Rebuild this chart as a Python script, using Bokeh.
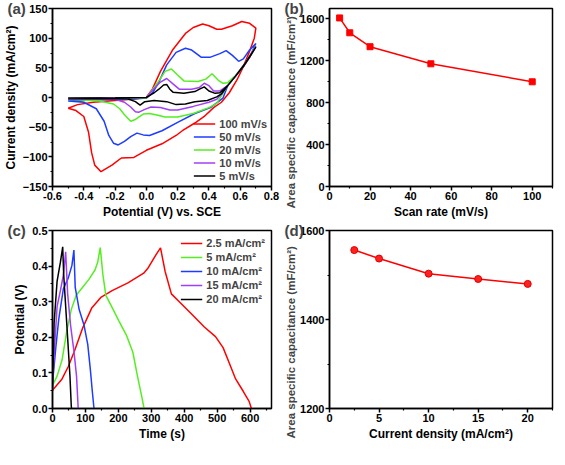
from bokeh.plotting import figure
from bokeh.layouts import gridplot
from bokeh.models import FixedTicker, Range1d, Legend, LegendItem, PrintfTickFormatter, Title
from bokeh.embed import file_html
from bokeh.resources import INLINE

# ---------------- data ----------------
# (a) CV curves: potential (V vs SCE) and current density (mA/cm2), closed loops
cv_labels = ["100 mV/s", "50 mV/s", "20 mV/s", "10 mV/s", "5 mV/s"]
cv100_x = [-0.50, -0.44, -0.34, -0.20, -0.10, 0.00, 0.04, 0.09, 0.17, 0.25, 0.30, 0.36, 0.40, 0.45, 0.48,
           0.55, 0.61, 0.66, 0.70, 0.69, 0.66, 0.62, 0.58, 0.53, 0.48, 0.43, 0.37, 0.31, 0.23, 0.19,
           0.10, 0.00, -0.08, -0.16, -0.22, -0.29, -0.33, -0.35, -0.37, -0.40, -0.45, -0.50]
cv100_y = [-18, -12, -8, -5, -3, 0, 15, 44, 81, 108, 118, 124, 121, 115, 115,
           121, 128, 125, 117, 100, 78, 52, 30, 8, -8, -17, -32, -43, -56, -64,
           -78, -89, -101, -102, -114, -125, -114, -93, -58, -32, -22, -18]
cv50_x = [-0.50, -0.30, -0.10, 0.00, 0.04, 0.08, 0.13, 0.19, 0.25, 0.29, 0.35, 0.41, 0.47, 0.51, 0.55,
          0.59, 0.62, 0.66, 0.70, 0.66, 0.62, 0.57, 0.52, 0.49, 0.41, 0.31, 0.20, 0.10, 0.02, -0.02,
          -0.06, -0.10, -0.14, -0.18, -0.21, -0.24, -0.27, -0.32, -0.40, -0.50]
cv50_y = [-6, -4, -3, -1, 8, 26, 55, 76, 83, 80, 68, 68, 74, 79, 71,
          61, 65, 80, 91, 68, 52, 36, 20, -1, -17, -27, -42, -56, -64, -63,
          -60, -66, -74, -80, -77, -64, -40, -19, -8, -6]
cv20_x = [-0.50, -0.20, 0.00, 0.03, 0.08, 0.12, 0.16, 0.20, 0.24, 0.33, 0.38, 0.42, 0.46, 0.49, 0.52,
          0.57, 0.63, 0.70, 0.66, 0.62, 0.57, 0.52, 0.48, 0.45, 0.40, 0.30, 0.20, 0.12, 0.06, 0.02,
          -0.02, -0.07, -0.10, -0.14, -0.17, -0.21, -0.30, -0.50]
cv20_y = [-3, -2, -1, 10, 28, 44, 48, 38, 28, 27, 31, 40, 29, 24, 25,
          37, 57, 87, 68, 52, 36, 20, 3, -10, -17, -27, -33, -33, -29, -27,
          -28, -37, -40, -29, -19, -11, -6, -3]
cv10_x = [-0.50, -0.20, 0.00, 0.05, 0.09, 0.13, 0.17, 0.21, 0.29, 0.34, 0.37, 0.40, 0.43, 0.47, 0.52,
          0.57, 0.63, 0.70, 0.66, 0.62, 0.57, 0.52, 0.48, 0.45, 0.40, 0.30, 0.20, 0.15, 0.09, 0.03,
          -0.01, -0.05, -0.07, -0.10, -0.14, -0.20, -0.50]
cv10_y = [-2, -1, 0, 15, 26, 32, 23, 14, 14, 17, 24, 20, 11, 11, 20,
          36, 57, 86, 68, 52, 36, 20, 6, -3, -8, -15, -21, -21, -17, -16,
          -20, -25, -24, -16, -8, -3, -2]
cv5_x = [-0.50, -0.20, 0.00, 0.03, 0.05, 0.08, 0.11, 0.13, 0.15, 0.17, 0.24, 0.31, 0.34, 0.37, 0.40,
         0.44, 0.47, 0.52, 0.57, 0.63, 0.70, 0.66, 0.62, 0.57, 0.52, 0.48, 0.45, 0.39, 0.31, 0.25,
         0.19, 0.13, 0.05, -0.01, -0.04, -0.07, -0.12, -0.50]
cv5_y = [-2, -1, 0, 5, 8, 14, 21, 22, 14, 9, 7, 10, 14, 18, 11,
         7, 8, 20, 36, 57, 85, 68, 52, 36, 20, 6, 1, -5, -7, -11,
         -12, -7, -5, -7, -13, -7, -2, -1]

# (b) capacitance vs scan rate
scan_rate = [5, 10, 20, 50, 100]
cap_scan = [1610, 1468, 1335, 1172, 1000]

# (c) galvanostatic charge/discharge: time (s), potential (V)
gcd_labels = ["2.5 mA/cm²", "5 mA/cm²", "10 mA/cm²", "15 mA/cm²", "20 mA/cm²"]
gcd25_t = [0, 29, 48, 67, 91, 119, 148, 181, 229, 277, 289, 315, 328, 342, 361, 385, 423, 461, 495,
           518, 537, 556, 580, 597, 604]
gcd25_v = [0.051, 0.083, 0.118, 0.162, 0.225, 0.282, 0.313, 0.331, 0.353, 0.380, 0.393, 0.433, 0.451,
           0.385, 0.322, 0.300, 0.265, 0.229, 0.202, 0.171, 0.127, 0.083, 0.047, 0.020, 0.0]
gcd5_t = [0, 14, 29, 43, 57, 72, 91, 110, 129, 137, 145, 153, 162, 177, 201, 224, 244, 258, 272, 278]
gcd5_v = [0.065, 0.091, 0.136, 0.216, 0.278, 0.318, 0.340, 0.362, 0.389, 0.410, 0.452, 0.376, 0.318,
          0.291, 0.247, 0.207, 0.158, 0.091, 0.029, 0.0]
gcd10_t = [0, 5, 10, 19, 33, 48, 59, 65, 69, 81, 96, 107, 115, 121, 126]
gcd10_v = [0.07, 0.12, 0.171, 0.251, 0.336, 0.367, 0.402, 0.445, 0.340, 0.278, 0.233, 0.180, 0.109,
           0.047, 0.0]
gcd15_t = [0, 3, 8, 14, 24, 33, 40, 46, 55, 65, 73, 78]
gcd15_v = [0.05, 0.12, 0.198, 0.287, 0.331, 0.375, 0.440, 0.322, 0.233, 0.162, 0.091, 0.0]
gcd20_t = [0, 2, 5, 14, 24, 31, 34, 40, 46, 53, 57, 58]
gcd20_v = [0.05, 0.13, 0.242, 0.358, 0.411, 0.454, 0.376, 0.287, 0.198, 0.091, 0.007, 0.0]

# (d) capacitance vs current density
cur_density = [2.5, 5, 10, 15, 20]
cap_cur = [1556, 1537, 1503, 1491, 1480]

# ticks
a_xticks = [-0.6, -0.4, -0.2, 0.0, 0.2, 0.4, 0.6, 0.8]
a_xminor = [-0.5, -0.3, -0.1, 0.1, 0.3, 0.5, 0.7]
a_yticks = [-150, -100, -50, 0, 50, 100, 150]
a_yminor = [-125, -75, -25, 25, 75, 125]
b_xticks = [0, 20, 40, 60, 80, 100]
b_xminor = [10, 30, 50, 70, 90, 110]
b_yticks = [0, 400, 800, 1200, 1600]
b_yminor = [200, 600, 1000, 1400]
c_xticks = [0, 100, 200, 300, 400, 500, 600]
c_xminor = [50, 150, 250, 350, 450, 550, 650]
c_yticks = [0.0, 0.1, 0.2, 0.3, 0.4, 0.5]
c_yminor = [0.05, 0.15, 0.25, 0.35, 0.45]
d_xticks = [0, 5, 10, 15, 20]
d_xminor = [2.5, 7.5, 12.5, 17.5, 22.5]
d_yticks = [1200, 1400, 1600]
d_yminor = [1300, 1500]

cv_colors = ["#FF0000", "#1E3CFF", "#55EE22", "#A040F5", "#000000"]
gcd_colors = ["#FF0000", "#55EE22", "#1E3CFF", "#A040F5", "#000000"]
FONT = "Liberation Sans"
CAP_LABEL = "Area specific capacitance (mF/cm²)"


def make(w, h, xr, yr, mbl, mbr, mbt, mbb, letter):
    p = figure(width=w, height=h, x_range=Range1d(*xr), y_range=Range1d(*yr),
               output_backend="svg", toolbar_location=None, title=letter,
               min_border_left=mbl, min_border_right=mbr,
               min_border_top=mbt, min_border_bottom=mbb)
    p.title.align = "left"
    p.title.offset = -45
    p.title.standoff = -16
    p.title.text_font = FONT
    p.title.text_font_style = "bold"
    p.title.text_font_size = "15px"
    p.xgrid.visible = False
    p.ygrid.visible = False
    p.outline_line_color = "black"
    p.outline_line_width = 1.5
    p.outline_line_alpha = 1
    p.background_fill_color = "white"
    p.border_fill_color = "white"
    return p


def style(p, xt, xm, yt, ym, xlabel, ylabel):
    p.xaxis.ticker = FixedTicker(ticks=xt, minor_ticks=xm)
    p.yaxis.ticker = FixedTicker(ticks=yt, minor_ticks=ym)
    p.xaxis.axis_label = xlabel
    if ylabel is not None:
        p.yaxis.axis_label = ylabel
    for ax in (p.xaxis[0], p.yaxis[0]):
        ax.axis_line_width = 1.5
        ax.major_tick_line_width = 1.5
        ax.minor_tick_line_width = 1.2
        ax.major_tick_out = 4
        ax.major_tick_in = 0
        ax.minor_tick_out = 2
        ax.minor_tick_in = 0
        ax.major_label_text_font = FONT
        ax.major_label_text_font_style = "bold"
        ax.major_label_text_font_size = "11px"
        ax.major_label_text_color = "black"
        ax.axis_label_text_font = FONT
        ax.axis_label_text_font_style = "bold"
        ax.axis_label_text_font_size = "12px"
        ax.axis_label_text_color = "black"
        ax.major_label_standoff = 1
        ax.axis_label_standoff = 2


def side_label(p, text, offset):
    t = Title(text=text, align="left", offset=offset, standoff=2,
              text_font=FONT, text_font_style="bold", text_font_size="11.5px")
    p.add_layout(t, "left")


def legend(p, items, loc, h, margin):
    lg = Legend(items=items, location=loc, border_line_alpha=0, background_fill_alpha=0,
                label_text_font=FONT, label_text_font_style="bold", label_text_font_size="11px",
                glyph_width=22, glyph_height=h, label_height=h, spacing=0, padding=2, margin=margin,
                label_standoff=4)
    p.add_layout(lg)


W1, W2 = 281, 273
H1, H2 = 222, 227

# (a)
pa = make(W1, H1, (-0.6, 0.8), (-150, 150), 45, 10, 8, 36, "(a)")
style(pa, a_xticks, a_xminor, a_yticks, a_yminor, "Potential (V) vs. SCE", "Current density (mA/cm²)")
pa.xaxis.formatter = PrintfTickFormatter(format="%.1f")
cvs = [(cv100_x, cv100_y), (cv50_x, cv50_y), (cv20_x, cv20_y), (cv10_x, cv10_y), (cv5_x, cv5_y)]
items = []
for (xs, ys), c, lab in zip(cvs, cv_colors, cv_labels):
    r = pa.line(xs, ys, line_color=c, line_width=1.5)
    items.append(LegendItem(label=lab, renderers=[r]))
legend(pa, items, "bottom_right", 13, 2)

# (b)
pb = make(W2, H1, (0, 110), (0, 1700), 45, 2, 8, 36, "(b)")
style(pb, b_xticks, b_xminor, b_yticks, b_yminor, "Scan rate (mV/s)", None)
side_label(pb, CAP_LABEL, -22)
pb.line(scan_rate, cap_scan, line_color="#FF0000", line_width=1.5)
pb.scatter(scan_rate, cap_scan, marker="square", size=6, fill_color="#FF0000", line_color="#FF0000")

# (c)
pc = make(W1, H2, (0, 665), (0, 0.5), 45, 10, 8, 41, "(c)")
style(pc, c_xticks, c_xminor, c_yticks, c_yminor, "Time (s)", "Potential (V)")
pc.yaxis.formatter = PrintfTickFormatter(format="%.1f")
gcds = [(gcd25_t, gcd25_v), (gcd5_t, gcd5_v), (gcd10_t, gcd10_v), (gcd15_t, gcd15_v), (gcd20_t, gcd20_v)]
items = []
for (xs, ys), c, lab in zip(gcds, gcd_colors, gcd_labels):
    r = pc.line(xs, ys, line_color=c, line_width=1.5)
    items.append(LegendItem(label=lab, renderers=[r]))
legend(pc, items, "top_right", 14, 4)

# (d)
pd_ = make(W2, H2, (0, 22.5), (1200, 1600), 45, 2, 8, 41, "(d)")
style(pd_, d_xticks, d_xminor, d_yticks, d_yminor, "Current density (mA/cm²)", None)
side_label(pd_, CAP_LABEL, -30)
pd_.line(cur_density, cap_cur, line_color="#FF0000", line_width=1.5)
pd_.scatter(cur_density, cap_cur, marker="circle", size=7, fill_color="#FF2020", line_color="#E00000")

grid = gridplot([[pa, pb], [pc, pd_]], toolbar_location=None)

open("out.html", "w").write(file_html(grid, INLINE))
